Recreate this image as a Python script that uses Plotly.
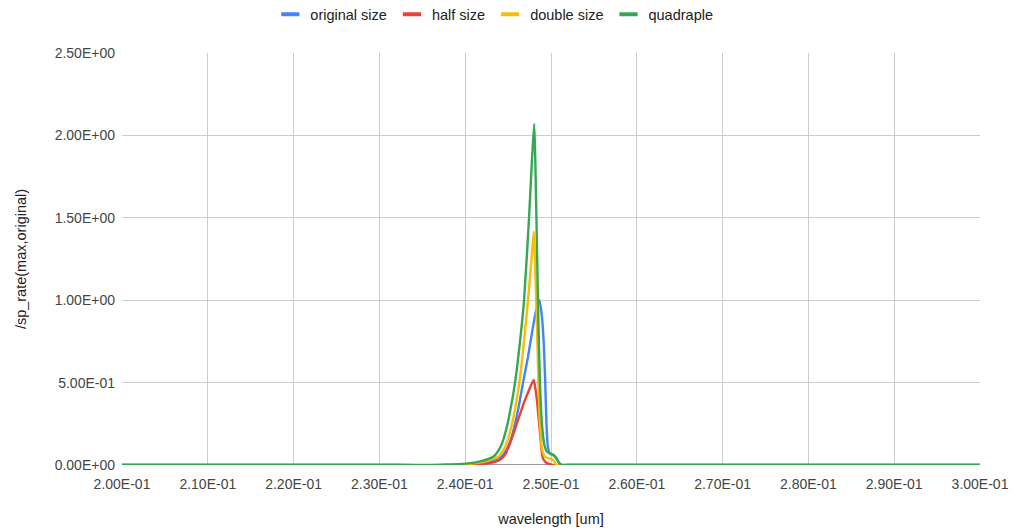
import plotly.graph_objects as go

# Wavelength [um] and normalised rate samples for each structure size
wl_original = [0.200, 0.210, 0.220, 0.230, 0.238, 0.24175, 0.24314, 0.24422, 0.24488, 0.24529,
               0.24581, 0.24622, 0.24674, 0.24732, 0.24784, 0.24831, 0.24865, 0.24894, 0.24915,
               0.24933, 0.24947, 0.24964, 0.24987, 0.25022, 0.25057, 0.25092, 0.25115, 0.252,
               0.260, 0.280, 0.300]
rate_original = [0, 0, 0, 0, 0, 0.01, 0.025, 0.05, 0.1, 0.15,
                 0.25, 0.35, 0.5, 0.657, 0.82, 0.95, 1.0, 0.9, 0.74,
                 0.5, 0.25, 0.11, 0.07, 0.06, 0.045, 0.015, 0, 0,
                 0, 0, 0]

wl_half = [0.200, 0.210, 0.220, 0.230, 0.239, 0.24268, 0.24404, 0.24473, 0.2455, 0.24616,
           0.24682, 0.24744, 0.24798, 0.24819, 0.2484, 0.24875, 0.24906, 0.24941, 0.24987,
           0.25022, 0.252, 0.260, 0.280, 0.300]
rate_half = [0, 0, 0, 0, 0, 0.01, 0.03, 0.071, 0.172, 0.273,
             0.374, 0.455, 0.516, 0.46, 0.374, 0.172, 0.04, 0.015, 0.005,
             0, 0, 0, 0, 0]

wl_double = [0.200, 0.210, 0.220, 0.230, 0.238, 0.24106, 0.24257, 0.24384, 0.24454, 0.24494,
             0.24546, 0.24585, 0.24631, 0.24686, 0.24732, 0.24773, 0.24799, 0.24811, 0.24828,
             0.24854, 0.24871, 0.24894, 0.24929, 0.24976, 0.25016, 0.25045, 0.25068, 0.252,
             0.260, 0.280, 0.300]
rate_double = [0, 0, 0, 0, 0, 0.01, 0.025, 0.05, 0.1, 0.15,
               0.25, 0.35, 0.5, 0.75, 1.0, 1.25, 1.416, 1.25, 1.0,
               0.5, 0.25, 0.1, 0.05, 0.04, 0.035, 0.015, 0, 0,
               0, 0, 0]

wl_quad = [0.200, 0.210, 0.220, 0.230, 0.236, 0.24036, 0.24198, 0.24326, 0.24401, 0.24442,
           0.24494, 0.24532, 0.24581, 0.24639, 0.24686, 0.24744, 0.24778, 0.24804, 0.24817,
           0.24837, 0.24854, 0.24871, 0.24894, 0.24924, 0.24953, 0.24987, 0.25034, 0.25069,
           0.25098, 0.25126, 0.252, 0.260, 0.280, 0.300]
rate_quad = [0, 0, 0, 0, 0, 0.01, 0.025, 0.05, 0.1, 0.15,
             0.25, 0.35, 0.5, 0.75, 1.0, 1.5, 1.85, 2.07, 1.85,
             1.3, 0.85, 0.5, 0.25, 0.12, 0.08, 0.07, 0.06, 0.035,
             0.01, 0, 0, 0, 0, 0]

x_ticks = [0.20, 0.21, 0.22, 0.23, 0.24, 0.25, 0.26, 0.27, 0.28, 0.29, 0.30]
x_tick_text = ["2.00E-01", "2.10E-01", "2.20E-01", "2.30E-01", "2.40E-01", "2.50E-01",
               "2.60E-01", "2.70E-01", "2.80E-01", "2.90E-01", "3.00E-01"]
y_ticks = [0, 0.5, 1.0, 1.5, 2.0, 2.5]
y_tick_text = ["0.00E+00", "5.00E-01", "1.00E+00", "1.50E+00", "2.00E+00", "2.50E+00"]

series = [
    ("original size", wl_original, rate_original, "#4285F4"),
    ("half size", wl_half, rate_half, "#EA4335"),
    ("double size", wl_double, rate_double, "#FBBC04"),
    ("quadraple", wl_quad, rate_quad, "#34A853"),
]

FONT = "Arial, Liberation Sans, sans-serif"

fig = go.Figure()
for name, xs, ys, color in series:
    fig.add_trace(go.Scatter(
        x=xs, y=ys, name=name, mode="lines", showlegend=False,
        line=dict(color=color, width=2.4, shape="spline", smoothing=0.6),
    ))

# legend entries drawn as short thick bars
for name, _, _, color in series:
    fig.add_trace(go.Scatter(
        x=[None], y=[None], name=name, mode="markers",
        marker=dict(symbol="line-ew", size=13, line=dict(color=color, width=4)),
    ))

fig.update_layout(
    width=1013, height=532,
    margin=dict(l=122, r=33, t=53, b=67, autoexpand=False),
    paper_bgcolor="white", plot_bgcolor="white",
    font=dict(family=FONT, size=14, color="#444444"),
    showlegend=True,
    legend=dict(orientation="h", xref="container", x=0.488, xanchor="center",
                yref="container", y=0.973, yanchor="middle",
                font=dict(family=FONT, size=14.5, color="#222222"),
                itemwidth=30, traceorder="normal"),
    xaxis=dict(
        range=[0.2, 0.3], tickvals=x_ticks, ticktext=x_tick_text,
        showgrid=True, gridcolor="#cccccc", gridwidth=1, automargin=False,
        zeroline=False, showline=False, ticks="", ticklabelstandoff=9,
        tickfont=dict(size=14, color="#444444"),
        title=dict(text="wavelength [um]", font=dict(size=14.5, color="#222222"), standoff=22),
    ),
    yaxis=dict(
        range=[0, 2.5], tickvals=y_ticks, ticktext=y_tick_text,
        showgrid=True, gridcolor="#cccccc", gridwidth=1, automargin=False,
        zeroline=False, showline=False, ticks="", ticklabelstandoff=6,
        tickfont=dict(size=14, color="#444444"),
        title=dict(text="/sp_rate(max,original)", font=dict(size=14.5, color="#222222"), standoff=24),
    ),
)

# dark baseline along y = 0
fig.add_shape(type="line", xref="paper", yref="y", x0=0, x1=1, y0=0, y1=0,
              line=dict(color="#333333", width=1), layer="below")

fig.write_html("out.html")
